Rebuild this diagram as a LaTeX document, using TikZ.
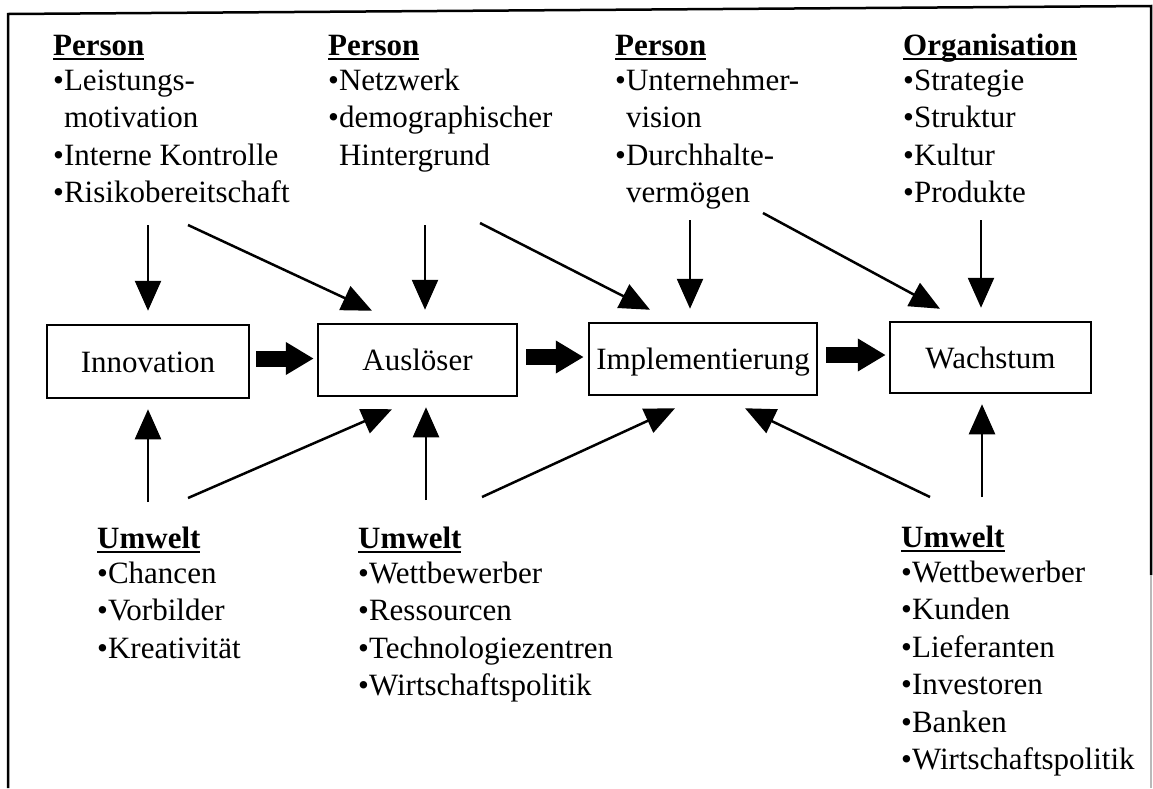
\documentclass[tikz,border=0pt]{standalone}
\usepackage{fontspec}
\setmainfont{Liberation Serif}
\usetikzlibrary{arrows.meta}

% underlined bold heading, rule at a fixed distance below the baseline
\newsavebox\hdrbox
\newcommand\hdr[1]{\sbox\hdrbox{\bfseries #1}\rlap{\rule[-4.5pt]{\wd\hdrbox}{2pt}}\usebox\hdrbox}
\newcommand\itm{\textbullet}
\newcommand\cont{\phantom{\textbullet}}
\newcommand\blocktext[1]{\begin{tabular}[t]{@{}l@{}}#1\end{tabular}}

\tikzset{
  txt/.style={anchor=base west, inner sep=0pt, font=\fontsize{31}{37.5}\selectfont},
  stage/.style={draw, line width=2.5pt, inner sep=0pt, text height=21pt, text depth=0pt,
                font=\fontsize{31}{37.5}\selectfont},
  bigarrow/.style={line width=16pt, -{Triangle[length=28pt,width=31pt]}},
  arr/.style={line width=2.5pt, -{Triangle[length=30pt,width=26pt]}},
  frame/.style={line width=2.5pt}
}

\begin{document}
\begin{tikzpicture}[x=1pt,y=-1pt]
\useasboundingbox (0,0) rectangle (1153,788);
\fill[white] (0,0) rectangle (1153,788);

% outer frame (open at the bottom)
\draw[frame] (8,788) -- (8,14) -- (1151,6) -- (1151,575);
\draw[frame, gray!55] (1151,575) -- (1151,788);

% process stages
\node[stage, minimum width=202pt, minimum height=73pt] (innov) at (148,361.5) {Innovation};
\node[stage, minimum width=199pt, minimum height=72pt] (ausl)  at (417.5,360) {Auslöser};
\node[stage, minimum width=228pt, minimum height=72pt] (impl)  at (703,359)   {Implementierung};
\node[stage, minimum width=201pt, minimum height=71pt] (wach)  at (990.5,357.5) {Wachstum};

% block arrows between stages
\draw[bigarrow] ([xshift=6pt,yshift=3pt]innov.east) -- ([xshift=-3pt,yshift=3pt]innov.east -| ausl.west);
\draw[bigarrow] ([xshift=8pt,yshift=3pt]ausl.east) -- ([xshift=-4pt,yshift=3pt]ausl.east -| impl.west);
\draw[bigarrow] ([xshift=8pt,yshift=4pt]impl.east) -- ([xshift=-3pt,yshift=4pt]impl.east -| wach.west);

% influencing factors above
\node[txt] (p1) at (53,55) {\blocktext{\hdr{Person}\\[-2.5pt]
  \itm Leistungs-\\ \cont motivation\\ \itm Interne Kontrolle\\ \itm Risikobereitschaft}};
\node[txt] (p2) at (328,55) {\blocktext{\hdr{Person}\\[-2.5pt]
  \itm Netzwerk\\ \itm demographischer\\ \cont Hintergrund}};
\node[txt] (p3) at (615,55) {\blocktext{\hdr{Person}\\[-2.5pt]
  \itm Unternehmer-\\ \cont vision\\ \itm Durchhalte-\\ \cont vermögen}};
\node[txt] (p4) at (903,55) {\blocktext{\hdr{Organisation}\\[-2.5pt]
  \itm Strategie\\ \itm Struktur\\ \itm Kultur\\ \itm Produkte}};

% influencing factors below
\node[txt] (u1) at (97,548) {\blocktext{\hdr{Umwelt}\\[-2.5pt]
  \itm Chancen\\ \itm Vorbilder\\ \itm Kreativität}};
\node[txt] (u2) at (358,548) {\blocktext{\hdr{Umwelt}\\[-2.5pt]
  \itm Wettbewerber\\ \itm Ressourcen\\ \itm Technologiezentren\\ \itm Wirtschaftspolitik}};
\node[txt] (u3) at (901,547) {\blocktext{\hdr{Umwelt}\\[-2.5pt]
  \itm Wettbewerber\\ \itm Kunden\\ \itm Lieferanten\\ \itm Investoren\\ \itm Banken\\ \itm Wirtschaftspolitik}};

% arrow start points under / above the factor lists
\coordinate (t1a) at (148,225);
\coordinate (t1b) at (188,225);
\coordinate (t2a) at (425,225);
\coordinate (t2b) at (480,223);
\coordinate (t3a) at (690,220);
\coordinate (t3b) at (763,213);
\coordinate (t4a) at (981,220);
\coordinate (b1a) at (148,502);
\coordinate (b1b) at (188,498);
\coordinate (b2a) at (426,500);
\coordinate (b2b) at (482,497);
\coordinate (b3a) at (930,497);
\coordinate (b3b) at (982,497);

% arrows from the upper factors
\draw[arr] (t1a) -- ([yshift=13pt]t1a |- innov.north);
\draw[arr] (t1b) -- ([xshift=-45.5pt,yshift=12pt]ausl.north);
\draw[arr] (t2a) -- ([yshift=13pt]t2a |- ausl.north);
\draw[arr] (t2b) -- ([xshift=-53pt,yshift=12pt]impl.north);
\draw[arr] (t3a) -- ([yshift=13pt]t3a |- impl.north);
\draw[arr] (t3b) -- ([xshift=-50.5pt,yshift=12pt]wach.north);
\draw[arr] (t4a) -- ([yshift=13pt]t4a |- wach.north);

% arrows from the lower factors
\draw[arr] (b1a) -- ([yshift=-10pt]b1a |- innov.south);
\draw[arr] (b1b) -- ([xshift=-25.5pt,yshift=-12pt]ausl.south);
\draw[arr] (b2a) -- ([yshift=-10pt]b2a |- ausl.south);
\draw[arr] (b2b) -- ([xshift=-28pt,yshift=-12pt]impl.south);
\draw[arr] (b3a) -- ([xshift=42pt,yshift=-12pt]impl.south);
\draw[arr] (b3b) -- ([yshift=-10pt]b3b |- wach.south);
\end{tikzpicture}
\end{document}
